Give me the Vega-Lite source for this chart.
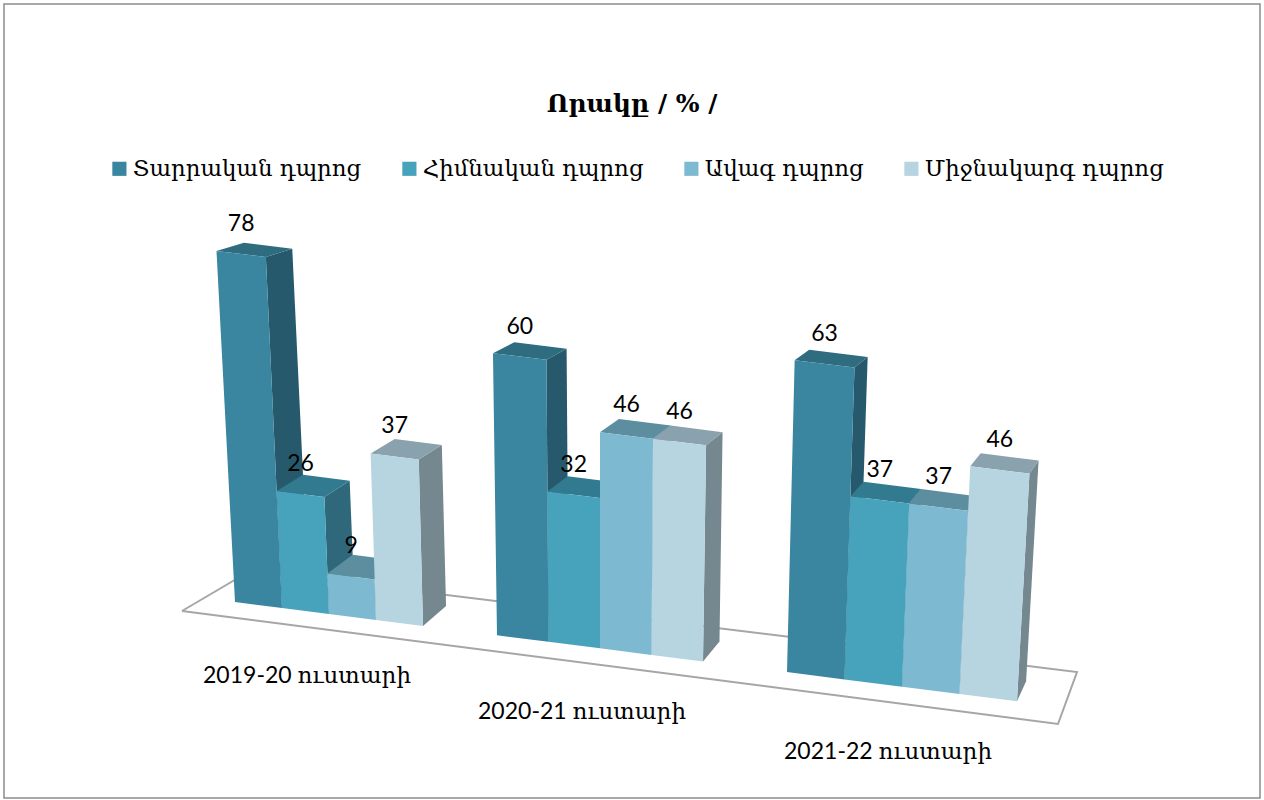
{
  "$schema": "https://vega.github.io/schema/vega-lite/v6.json",
  "width": 1256,
  "height": 794,
  "autosize": "none",
  "padding": {"left": 4, "top": 4, "right": 4, "bottom": 2},
  "background": "white",
  "title": {"text": "Որակը  / % /", "font": "DejaVu Serif", "fontSize": 25, "fontWeight": "bold", "color": "#000000", "anchor": "middle", "baseline": "middle", "dy": 125, "offset": 0},
  "config": {"view": {"stroke": "#8c8c8c", "strokeWidth": 1.5}},
  "datasets": {
    "bars": [
      {"year": "2019-20 ուստարի", "school": "Տարրական դպրոց", "value": 78},
      {"year": "2019-20 ուստարի", "school": "Հիմնական դպրոց", "value": 26},
      {"year": "2019-20 ուստարի", "school": "Ավագ դպրոց", "value": 9},
      {"year": "2019-20 ուստարի", "school": "Միջնակարգ դպրոց", "value": 37},
      {"year": "2020-21 ուստարի", "school": "Տարրական դպրոց", "value": 60},
      {"year": "2020-21 ուստարի", "school": "Հիմնական դպրոց", "value": 32},
      {"year": "2020-21 ուստարի", "school": "Ավագ դպրոց", "value": 46},
      {"year": "2020-21 ուստարի", "school": "Միջնակարգ դպրոց", "value": 46},
      {"year": "2021-22 ուստարի", "school": "Տարրական դպրոց", "value": 63},
      {"year": "2021-22 ուստարի", "school": "Հիմնական դպրոց", "value": 37},
      {"year": "2021-22 ուստարի", "school": "Ավագ դպրոց", "value": 37},
      {"year": "2021-22 ուստարի", "school": "Միջնակարգ դպրոց", "value": 46}
    ],
    "floor": [
      {"corner": 0},
      {"corner": 1},
      {"corner": 2},
      {"corner": 3},
      {"corner": 4}
    ]
  },
  "layer": [
    {
      "data": {"name": "floor"},
      "transform": [
        {"calculate": "[182,250,1077,1058,182][datum.corner]", "as": "px"},
        {"calculate": "[611,571,672,724,611][datum.corner]", "as": "py"}
      ],
      "mark": {"type": "line", "stroke": "#a6a6a6", "strokeWidth": 2},
      "encoding": {
        "x": {"field": "px", "type": "quantitative", "scale": {"domain": [4, 1260]}, "axis": null},
        "y": {"field": "py", "type": "quantitative", "scale": {"domain": [798, 4]}, "axis": null},
        "order": {"field": "corner", "type": "quantitative"}
      }
    },
    {
      "data": {"name": "bars"},
      "transform": [
        {"calculate": "indexof(['2019-20 ուստարի','2020-21 ուստարի','2021-22 ուստարի'], datum.year)", "as": "g"},
        {"calculate": "indexof(['Տարրական դպրոց','Հիմնական դպրոց','Ավագ դպրոց','Միջնակարգ դպրոց'], datum.school)", "as": "s"},
        {"calculate": "['side','top','front']", "as": "face"},
        {"flatten": ["face"]},
        {"calculate": "[0,1,2,3]", "as": "corner"},
        {"flatten": ["corner"]},
        {"calculate": "datum.face=='side' ? 1 : datum.face=='top' ? [0,0,1,1][datum.corner] : [0,1,1,0][datum.corner]", "as": "u"},
        {"calculate": "datum.face=='top' ? 1 : [1,1,0,0][datum.corner]", "as": "h"},
        {"calculate": "datum.face=='front' ? 0 : [0,1,1,0][datum.corner]", "as": "d"},
        {"calculate": "[235,497,787][datum.g] + (datum.s + datum.u) * [47,51.5,57.5][datum.g]", "as": "xb"},
        {"calculate": "datum.h * datum.value", "as": "hv"},
        {"calculate": "datum.xb + datum.hv * (datum.xb - 600) * 0.00065 + datum.d * (33 - 0.0235 * datum.xb)", "as": "px"},
        {"calculate": "602 + (datum.xb - 235) * 0.127 - datum.hv * [4.5,4.7,4.95][datum.g] + datum.d * (-20 + datum.hv * 0.15)", "as": "py"},
        {"calculate": "datum.year + '|' + datum.school + '|' + datum.face", "as": "poly"},
        {"calculate": "datum.face == 'front' ? datum.school : datum.school + ' ' + datum.face", "as": "shade"}
      ],
      "mark": {"type": "line", "filled": true, "strokeWidth": 0, "interpolate": "linear"},
      "encoding": {
        "x": {"field": "px", "type": "quantitative", "scale": {"domain": [4, 1260]}, "axis": null},
        "y": {"field": "py", "type": "quantitative", "scale": {"domain": [798, 4]}, "axis": null},
        "detail": {"field": "poly"},
        "order": {"field": "corner", "type": "quantitative"},
        "fill": {
          "field": "shade",
          "type": "nominal",
          "scale": {
            "domain": ["Տարրական դպրոց", "Հիմնական դպրոց", "Ավագ դպրոց", "Միջնակարգ դպրոց", "Տարրական դպրոց side", "Հիմնական դպրոց side", "Ավագ դպրոց side", "Միջնակարգ դպրոց side", "Տարրական դպրոց top", "Հիմնական դպրոց top", "Ավագ դպրոց top", "Միջնակարգ դպրոց top"],
            "range": ["#3a859f", "#47a2bc", "#7db9d1", "#b6d5e1", "#26596b", "#2e687a", "#52798a", "#75878f", "#2f6c7f", "#317a90", "#5c8ea0", "#89a2ad"]
          },
          "legend": {
            "values": ["Տարրական դպրոց", "Հիմնական դպրոց", "Ավագ դպրոց", "Միջնակարգ դպրոց"],
            "title": null,
            "orient": "none",
            "legendX": 104,
            "legendY": 153,
            "direction": "horizontal",
            "columns": 4,
            "columnPadding": 36,
            "padding": 0,
            "symbolType": "square",
            "symbolSize": 200,
            "symbolStrokeWidth": 0,
            "symbolOpacity": 1,
            "labelFont": "DejaVu Serif",
            "labelFontSize": 22.8,
            "labelColor": "#000000",
            "labelLimit": 400,
            "labelOffset": 2
          }
        }
      }
    },
    {
      "data": {"name": "bars"},
      "transform": [
        {"calculate": "indexof(['2019-20 ուստարի','2020-21 ուստարի','2021-22 ուստարի'], datum.year)", "as": "g"},
        {"calculate": "indexof(['Տարրական դպրոց','Հիմնական դպրոց','Ավագ դպրոց','Միջնակարգ դպրոց'], datum.school)", "as": "s"},
        {"calculate": "[235,497,787][datum.g] + (datum.s + 0.5) * [47,51.5,57.5][datum.g]", "as": "xb"},
        {"calculate": "datum.xb + datum.value * (datum.xb - 600) * 0.00065", "as": "px"},
        {"calculate": "602 + (datum.xb - 235) * 0.127 - datum.value * [4.5,4.7,4.95][datum.g]", "as": "py"}
      ],
      "mark": {"type": "text", "font": "Lato", "fontSize": 23, "color": "#000000", "dy": -30, "baseline": "middle", "align": "center"},
      "encoding": {
        "x": {"field": "px", "type": "quantitative", "scale": {"domain": [4, 1260]}, "axis": null},
        "y": {"field": "py", "type": "quantitative", "scale": {"domain": [798, 4]}, "axis": null},
        "text": {"field": "value", "type": "quantitative"}
      }
    },
    {
      "data": {"name": "bars"},
      "transform": [
        {"filter": "datum.school == 'Տարրական դպրոց'"},
        {"calculate": "indexof(['2019-20 ուստարի','2020-21 ուստարի','2021-22 ուստարի'], datum.year)", "as": "g"},
        {"calculate": "[307,582,888][datum.g]", "as": "px"},
        {"calculate": "[676,712,752][datum.g]", "as": "py"}
      ],
      "mark": {"type": "text", "font": "Lato, DejaVu Serif", "fontSize": 23, "color": "#000000", "baseline": "middle", "align": "center"},
      "encoding": {
        "x": {"field": "px", "type": "quantitative", "scale": {"domain": [4, 1260]}, "axis": null},
        "y": {"field": "py", "type": "quantitative", "scale": {"domain": [798, 4]}, "axis": null},
        "text": {"field": "year", "type": "nominal"}
      }
    }
  ]
}
